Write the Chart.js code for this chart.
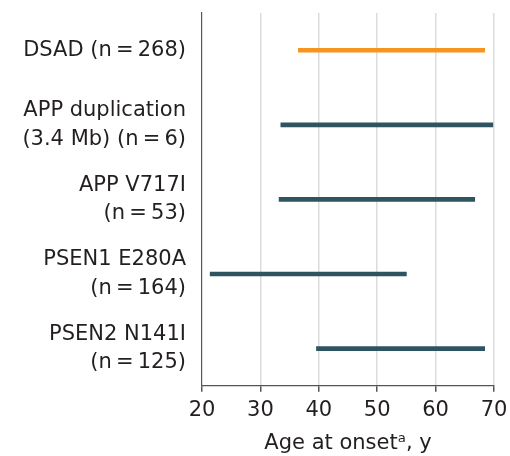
<!DOCTYPE html>
<html>
<head>
<meta charset="utf-8">
<script src="https://cdn.jsdelivr.net/npm/chart.js@4/dist/chart.umd.min.js"></script>
<style>
  html, body { margin: 0; padding: 0; background: #fff; }
  #wrap { width: 510px; height: 456px; }
</style>
</head>
<body>
<div id="wrap"><canvas id="c" width="510" height="456"></canvas></div>
<script>
// Cohorts (each label split over lines as printed)
const groups = [
  ['DSAD (n\u2009=\u2009268)'],
  ['APP duplication', '(3.4 Mb) (n\u2009=\u20096)'],
  ['APP V717I', '(n\u2009=\u200953)'],
  ['PSEN1 E280A', '(n\u2009=\u2009164)'],
  ['PSEN2 N141I', '(n\u2009=\u2009125)']
];
// Range of age at onset, years
const onsetMin = [36.5, 33.5, 33.2, 21.4, 39.6];
const onsetMax = [68.4, 69.8, 66.7, 55.0, 68.4];
// Axis ticks
const xTicks = [20, 30, 40, 50, 60, 70];

const ORANGE = '#F7941E';
const TEAL = '#2E5460';
const barColors = groups.map((g, i) => i === 0 ? ORANGE : TEAL);

const FONT = '"DejaVu Sans", sans-serif';

new Chart(document.getElementById('c'), {
  type: 'bar',
  data: {
    labels: groups,
    datasets: [{
      data: onsetMin.map((v, i) => [v, onsetMax[i]]),
      backgroundColor: barColors,
      borderWidth: 0,
      barThickness: 4
    }]
  },
  options: {
    indexAxis: 'y',
    responsive: false,
    animation: false,
    devicePixelRatio: 1,
    layout: { padding: { top: 13, right: 16, bottom: 0, left: 0 } },
    plugins: { legend: { display: false }, tooltip: { enabled: false } },
    scales: {
      x: {
        type: 'linear',
        min: xTicks[0],
        max: xTicks[xTicks.length - 1],
        afterBuildTicks: (s) => { s.ticks = xTicks.map(v => ({ value: v })); },
        ticks: { font: { family: FONT, size: 21, lineHeight: 1.15 }, color: '#231f20', padding: 7 },
        grid: {
          color: (ctx) => ctx.tick && ctx.tick.value === xTicks[0] ? 'rgba(0,0,0,0)' : '#dcdcdc',
          lineWidth: 1.5,
          tickColor: '#555',
          tickLength: 6
        },
        border: { display: true, color: '#555', width: 1.2 },
        title: {
          display: true,
          text: 'Age at onset\u1d43, y',
          font: { family: FONT, size: 21, lineHeight: 1.0 },
          color: '#231f20',
          padding: { top: 3, bottom: 2 }
        },
        afterFit: (s) => { s.paddingLeft = 0; s.paddingRight = 0; }
      },
      y: {
        grid: { display: false },
        border: { display: true, color: '#555', width: 1.2 },
        ticks: {
          font: { family: FONT, size: 21, lineHeight: 1.36 },
          color: '#231f20',
          padding: 8
        },
        afterFit: (s) => { s.width = 202; s.paddingTop = 0; s.paddingBottom = 0; }
      }
    }
  }
});
</script>
</body>
</html>
